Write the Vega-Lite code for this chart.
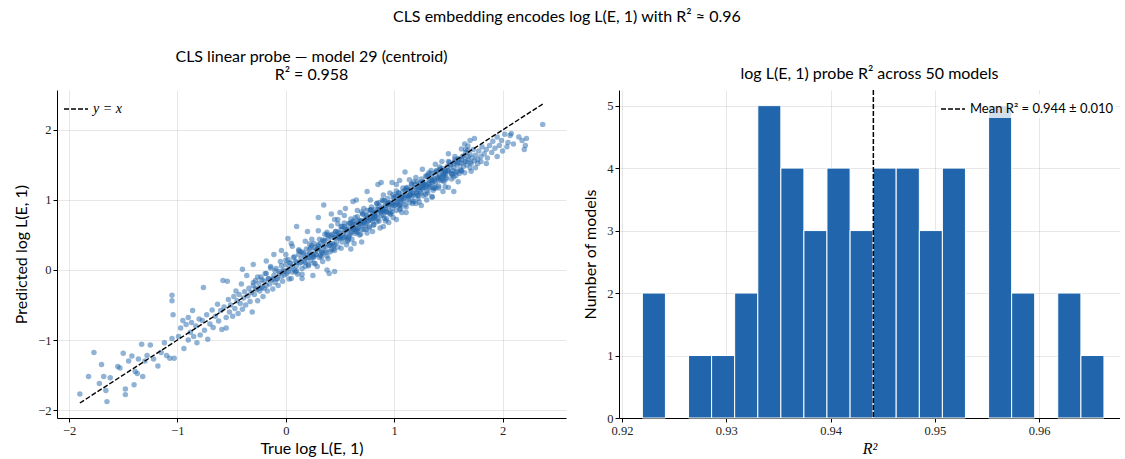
{
  "$schema": "https://vega.github.io/schema/vega-lite/v6.json",
  "background": "white",
  "padding": {"left": 13, "top": 9, "right": 0, "bottom": 5},
  "title": {"text": "CLS embedding encodes log L(E, 1) with R² ≈ 0.96", "anchor": "middle", "fontSize": 16, "offset": 24},
  "spacing": 53,
  "bounds": "flush",
  "resolve": {"scale": {"strokeDash": "independent"}, "legend": {"strokeDash": "independent"}},
  "config": {
    "font": "Lato",
    "view": {"stroke": null},
    "axis": {"domainColor": "black", "domainWidth": 1, "tickColor": "black", "tickSize": 4, "labelFont": "Liberation Serif", "labelFontSize": 12.5, "labelColor": "#222222", "titleFont": "Lato", "titleFontSize": 16, "titleFontWeight": "normal", "titleColor": "black", "gridColor": "#b0b0b0", "gridOpacity": 0.3, "zindex": 1},
    "title": {"font": "Lato", "fontSize": 16, "fontWeight": "normal", "color": "black", "offset": 7, "lineHeight": 18},
    "legend": {"labelFont": "Lato", "labelFontSize": 13, "labelColor": "black", "symbolType": "stroke", "symbolStrokeColor": "black", "symbolSize": 576, "symbolStrokeWidth": 1.5, "offset": 4, "padding": 2}
  },
  "hconcat": [
    {
      "width": 509,
      "height": 328,
      "title": {"text": ["CLS linear probe — model 29 (centroid)", "R² = 0.958"]},
      "layer": [
        {
          "data": {"values": [
            {"t":-1.90,"p":-1.77},{"t":-1.82,"p":-1.52},{"t":-1.77,"p":-1.18},{"t":-1.72,"p":-1.62},{"t":-1.70,"p":-1.35},{"t":-1.68,"p":-1.52},{"t":-1.66,"p":-1.72},{"t":-1.65,"p":-1.88},{"t":-1.62,"p":-1.54},{"t":-1.55,"p":-1.38},{"t":-1.53,"p":-1.40},{"t":-1.50,"p":-1.19},{"t":-1.48,"p":-1.70},{"t":-1.48,"p":-1.78},{"t":-1.45,"p":-1.30},{"t":-1.42,"p":-1.23},{"t":-1.40,"p":-1.64},{"t":-1.39,"p":-1.45},{"t":-1.37,"p":-1.48},{"t":-1.36,"p":-1.27},{"t":-1.33,"p":-1.06},{"t":-1.32,"p":-1.52},{"t":-1.30,"p":-1.30},{"t":-1.28,"p":-1.22},{"t":-1.25,"p":-1.07},{"t":-1.22,"p":-1.27},{"t":-1.18,"p":-1.37},{"t":-1.15,"p":-1.18},{"t":-1.12,"p":-1.04},{"t":-1.10,"p":-1.22},{"t":-1.07,"p":-1.26},{"t":-1.05,"p":-0.98},{"t":-1.05,"p":-0.36},{"t":-1.05,"p":-0.44},{"t":-1.04,"p":-0.64},{"t":-1.03,"p":-1.26},
            {"t":-0.99,"p":-0.95},{"t":-0.97,"p":-0.83},{"t":-0.95,"p":-0.72},{"t":-0.94,"p":-1.12},{"t":-0.92,"p":-0.78},{"t":-0.90,"p":-0.68},{"t":-0.90,"p":-1.00},{"t":-0.88,"p":-0.89},{"t":-0.87,"p":-0.75},{"t":-0.86,"p":-0.58},{"t":-0.85,"p":-0.95},{"t":-0.83,"p":-0.80},{"t":-0.82,"p":-1.04},{"t":-0.80,"p":-0.70},{"t":-0.79,"p":-0.93},{"t":-0.77,"p":-0.72},{"t":-0.76,"p":-0.25},{"t":-0.75,"p":-0.86},{"t":-0.73,"p":-0.64},{"t":-0.72,"p":-0.99},{"t":-0.70,"p":-0.77},{"t":-0.68,"p":-0.57},{"t":-0.67,"p":-0.82},{"t":-0.65,"p":-0.66},{"t":-0.63,"p":-0.49},{"t":-0.62,"p":-0.73},{"t":-0.60,"p":-0.58},{"t":-0.59,"p":-0.85},{"t":-0.58,"p":-0.15},{"t":-0.57,"p":-0.53},{"t":-0.55,"p":-0.68},{"t":-0.55,"p":-0.83},{"t":-0.54,"p":-0.16},{"t":-0.53,"p":-0.42},{"t":-0.52,"p":-0.60},{"t":-0.51,"p":-0.50},
            {"t":-0.49,"p":-0.66},{"t":-0.48,"p":-0.38},{"t":-0.47,"p":-0.55},{"t":-0.46,"p":-0.30},{"t":-0.45,"p":-0.44},{"t":-0.44,"p":-0.62},{"t":-0.43,"p":-0.35},{"t":-0.42,"p":-0.48},{"t":-0.41,"p":-0.20},{"t":-0.40,"p":-0.56},{"t":-0.39,"p":-0.40},{"t":-0.38,"p":-0.31},{"t":-0.37,"p":-0.50},{"t":-0.36,"p":-0.08},{"t":-0.35,"p":-0.37},{"t":-0.34,"p":-0.26},{"t":-0.33,"p":-0.45},{"t":-0.32,"p":-0.32},{"t":-0.31,"p":-0.60},{"t":-0.30,"p":-0.22},{"t":-0.29,"p":-0.35},{"t":-0.28,"p":-0.15},{"t":-0.27,"p":-0.28},{"t":-0.26,"p":-0.44},{"t":-0.25,"p":-0.19},{"t":-0.24,"p":-0.30},{"t":-0.23,"p":-0.10},{"t":-0.22,"p":-0.25},{"t":-0.21,"p":-0.38},{"t":-0.20,"p":-0.16},{"t":-0.19,"p":-0.05},{"t":-0.18,"p":-0.22},{"t":-0.17,"p":-0.30},{"t":-0.16,"p":-0.12},{"t":-0.15,"p":-0.20},{"t":-0.14,"p":0.05},{"t":-0.13,"p":-0.14},{"t":-0.12,"p":-0.27},{"t":-0.11,"p":-0.08},{"t":-0.10,"p":-0.18},{"t":-0.09,"p":0.02},{"t":-0.08,"p":-0.12},{"t":-0.07,"p":-0.22},{"t":-0.06,"p":-0.05},{"t":-0.05,"p":0.12},{"t":-0.04,"p":-0.09},{"t":-0.03,"p":-0.16},{"t":-0.02,"p":0.00},{"t":-0.01,"p":-0.07},{"t":-0.04,"p":0.28},{"t":-0.11,"p":0.22},{"t":-0.18,"p":0.13},{"t":-0.30,"p":0.08},{"t":-0.40,"p":0.01},
            {"t":0.00,"p":0.08},{"t":0.01,"p":-0.05},{"t":0.02,"p":0.15},{"t":0.03,"p":0.02},{"t":0.04,"p":0.10},{"t":0.05,"p":-0.12},{"t":0.06,"p":0.05},{"t":0.07,"p":0.18},{"t":0.08,"p":0.00},{"t":0.09,"p":0.12},{"t":0.10,"p":0.06},{"t":0.11,"p":-0.06},{"t":0.12,"p":0.22},{"t":0.13,"p":0.10},{"t":0.14,"p":0.16},{"t":0.15,"p":0.02},{"t":0.16,"p":0.25},{"t":0.17,"p":0.12},{"t":0.18,"p":0.05},{"t":0.19,"p":0.30},{"t":0.20,"p":0.18},{"t":0.21,"p":0.08},{"t":0.22,"p":0.24},{"t":0.23,"p":0.14},{"t":0.24,"p":0.35},{"t":0.25,"p":0.20},{"t":0.26,"p":0.10},{"t":0.27,"p":0.28},{"t":0.28,"p":0.22},{"t":0.29,"p":0.05},{"t":0.30,"p":0.30},{"t":0.31,"p":0.18},{"t":0.32,"p":0.38},{"t":0.33,"p":0.25},{"t":0.34,"p":0.12},{"t":0.35,"p":0.33},{"t":0.36,"p":0.42},{"t":0.37,"p":0.28},{"t":0.38,"p":0.20},{"t":0.39,"p":0.45},{"t":0.40,"p":0.35},{"t":0.41,"p":0.26},{"t":0.42,"p":0.50},{"t":0.43,"p":0.38},{"t":0.44,"p":0.30},{"t":0.45,"p":0.46},{"t":0.46,"p":0.55},{"t":0.47,"p":0.40},{"t":0.48,"p":0.33},{"t":0.49,"p":0.52},
            {"t":0.10,"p":0.62},{"t":0.05,"p":0.38},{"t":0.02,"p":0.45},{"t":0.30,"p":0.75},{"t":0.35,"p":0.93},{"t":0.20,"p":0.55},{"t":0.40,"p":-0.05},{"t":0.45,"p":-0.02},{"t":0.38,"p":0.00},{"t":0.25,"p":-0.08},{"t":0.15,"p":-0.12},{"t":0.48,"p":0.72},{"t":0.42,"p":0.80},
            {"t":0.50,"p":0.45},{"t":0.51,"p":0.58},{"t":0.52,"p":0.40},{"t":0.53,"p":0.52},{"t":0.54,"p":0.62},{"t":0.55,"p":0.48},{"t":0.56,"p":0.36},{"t":0.57,"p":0.57},{"t":0.58,"p":0.66},{"t":0.59,"p":0.50},{"t":0.60,"p":0.60},{"t":0.61,"p":0.44},{"t":0.62,"p":0.70},{"t":0.63,"p":0.58},{"t":0.64,"p":0.52},{"t":0.65,"p":0.65},{"t":0.66,"p":0.76},{"t":0.67,"p":0.60},{"t":0.68,"p":0.50},{"t":0.69,"p":0.70},{"t":0.70,"p":0.64},{"t":0.71,"p":0.80},{"t":0.72,"p":0.58},{"t":0.73,"p":0.72},{"t":0.74,"p":0.66},{"t":0.75,"p":0.85},{"t":0.76,"p":0.70},{"t":0.77,"p":0.60},{"t":0.78,"p":0.76},{"t":0.79,"p":0.90},{"t":0.80,"p":0.74},{"t":0.81,"p":0.65},{"t":0.82,"p":0.82},{"t":0.83,"p":0.76},{"t":0.84,"p":0.95},{"t":0.85,"p":0.80},{"t":0.86,"p":0.70},{"t":0.87,"p":0.86},{"t":0.88,"p":0.78},{"t":0.89,"p":1.00},{"t":0.90,"p":0.85},{"t":0.91,"p":0.74},{"t":0.92,"p":0.92},{"t":0.93,"p":0.84},{"t":0.94,"p":1.02},{"t":0.95,"p":0.90},{"t":0.96,"p":0.80},{"t":0.97,"p":0.96},{"t":0.98,"p":0.88},{"t":0.99,"p":1.08},
            {"t":0.55,"p":0.55},{"t":0.60,"p":0.53},{"t":0.65,"p":0.58},{"t":0.70,"p":0.70},{"t":0.75,"p":0.74},{"t":0.80,"p":0.80},{"t":0.85,"p":0.86},{"t":0.90,"p":0.90},{"t":0.95,"p":0.94},{"t":0.62,"p":0.62},{"t":0.72,"p":0.68},{"t":0.82,"p":0.77},{"t":0.92,"p":0.87},{"t":0.68,"p":0.66},{"t":0.78,"p":0.72},{"t":0.88,"p":0.84},{"t":0.98,"p":0.95},
            {"t":0.55,"p":0.88},{"t":0.62,"p":0.98},{"t":0.65,"p":1.00},{"t":0.75,"p":1.12},{"t":0.85,"p":1.22},{"t":0.88,"p":1.25},{"t":0.70,"p":0.40},{"t":0.80,"p":0.55},{"t":0.90,"p":0.62},{"t":0.95,"p":0.68},{"t":0.60,"p":0.30},{"t":0.50,"p":0.82},{"t":0.45,"p":0.72},
            {"t":1.00,"p":0.92},{"t":1.01,"p":1.05},{"t":1.02,"p":0.85},{"t":1.03,"p":0.98},{"t":1.04,"p":1.10},{"t":1.05,"p":0.92},{"t":1.06,"p":1.02},{"t":1.07,"p":0.82},{"t":1.08,"p":1.12},{"t":1.09,"p":0.98},{"t":1.10,"p":1.06},{"t":1.11,"p":0.90},{"t":1.12,"p":1.18},{"t":1.13,"p":1.04},{"t":1.14,"p":0.96},{"t":1.15,"p":1.12},{"t":1.16,"p":1.22},{"t":1.17,"p":1.06},{"t":1.18,"p":0.98},{"t":1.19,"p":1.15},{"t":1.20,"p":1.10},{"t":1.21,"p":1.26},{"t":1.22,"p":1.02},{"t":1.23,"p":1.18},{"t":1.24,"p":1.12},{"t":1.25,"p":1.30},{"t":1.26,"p":1.16},{"t":1.27,"p":1.06},{"t":1.28,"p":1.22},{"t":1.29,"p":1.34},{"t":1.30,"p":1.20},{"t":1.31,"p":1.10},{"t":1.32,"p":1.28},{"t":1.33,"p":1.22},{"t":1.34,"p":1.38},{"t":1.35,"p":1.25},{"t":1.36,"p":1.14},{"t":1.37,"p":1.30},{"t":1.38,"p":1.24},{"t":1.39,"p":1.42},{"t":1.40,"p":1.32},{"t":1.41,"p":1.20},{"t":1.42,"p":1.36},{"t":1.43,"p":1.28},{"t":1.44,"p":1.45},{"t":1.45,"p":1.35},{"t":1.46,"p":1.26},{"t":1.47,"p":1.40},{"t":1.48,"p":1.32},{"t":1.49,"p":1.48},
            {"t":1.02,"p":0.97},{"t":1.07,"p":1.00},{"t":1.12,"p":1.06},{"t":1.17,"p":1.10},{"t":1.22,"p":1.15},{"t":1.27,"p":1.18},{"t":1.32,"p":1.24},{"t":1.37,"p":1.27},{"t":1.42,"p":1.33},{"t":1.47,"p":1.37},{"t":1.05,"p":1.00},{"t":1.15,"p":1.08},{"t":1.25,"p":1.19},{"t":1.35,"p":1.28},{"t":1.45,"p":1.38},
            {"t":1.10,"p":1.40},{"t":0.98,"p":1.25},{"t":1.05,"p":1.28},{"t":1.20,"p":0.95},{"t":1.25,"p":0.92},{"t":1.30,"p":1.00},{"t":1.35,"p":1.05},{"t":1.45,"p":1.12},{"t":1.50,"p":1.18},{"t":1.55,"p":1.12},{"t":1.02,"p":0.72},{"t":0.92,"p":0.70},
            {"t":1.50,"p":1.42},{"t":1.52,"p":1.50},{"t":1.53,"p":1.36},{"t":1.55,"p":1.46},{"t":1.56,"p":1.55},{"t":1.57,"p":1.40},{"t":1.58,"p":1.50},{"t":1.60,"p":1.58},{"t":1.61,"p":1.44},{"t":1.62,"p":1.52},{"t":1.63,"p":1.62},{"t":1.64,"p":1.48},{"t":1.65,"p":1.55},{"t":1.66,"p":1.68},{"t":1.67,"p":1.50},{"t":1.68,"p":1.58},{"t":1.70,"p":1.65},{"t":1.71,"p":1.52},{"t":1.72,"p":1.60},{"t":1.73,"p":1.72},{"t":1.74,"p":1.56},{"t":1.75,"p":1.64},{"t":1.77,"p":1.58},{"t":1.78,"p":1.70},{"t":1.80,"p":1.62},{"t":1.81,"p":1.76},{"t":1.83,"p":1.66},{"t":1.85,"p":1.72},{"t":1.86,"p":1.60},{"t":1.88,"p":1.78},{"t":1.90,"p":1.68},{"t":1.91,"p":1.84},{"t":1.93,"p":1.74},{"t":1.95,"p":1.90},{"t":1.97,"p":1.78},{"t":1.99,"p":1.85},{"t":1.65,"p":1.80},{"t":1.70,"p":1.85},{"t":1.55,"p":1.33},{"t":1.60,"p":1.38},{"t":1.75,"p":1.46},{"t":1.80,"p":1.55},{"t":1.85,"p":1.52},{"t":1.62,"p":1.58},{"t":1.68,"p":1.62},
            {"t":2.02,"p":1.94},{"t":2.04,"p":1.76},{"t":2.05,"p":1.82},{"t":2.07,"p":1.92},{"t":2.08,"p":1.95},{"t":2.15,"p":1.90},{"t":2.18,"p":1.85},{"t":2.20,"p":1.72},{"t":2.21,"p":1.78},{"t":2.22,"p":1.88},{"t":2.37,"p":2.08},{"t":2.10,"p":1.80},{"t":2.00,"p":1.70},{"t":1.95,"p":1.62},
            {"t":-0.30,"p":-0.18},{"t":-0.28,"p":-0.26},{"t":-0.26,"p":-0.10},{"t":-0.24,"p":-0.26},{"t":-0.22,"p":-0.14},{"t":-0.20,"p":-0.26},{"t":-0.18,"p":-0.05},{"t":-0.16,"p":-0.13},{"t":-0.14,"p":0.03},{"t":-0.12,"p":-0.13},{"t":-0.10,"p":-0.01},{"t":-0.08,"p":-0.13},{"t":-0.06,"p":-0.02},{"t":-0.04,"p":0.06},{"t":-0.02,"p":-0.02},{"t":0.00,"p":0.14},{"t":0.02,"p":-0.02},{"t":0.04,"p":0.10},{"t":0.06,"p":-0.03},{"t":0.08,"p":0.19},{"t":0.10,"p":0.11},{"t":0.12,"p":0.27},{"t":0.14,"p":0.11},{"t":0.16,"p":0.23},{"t":0.18,"p":0.11},{"t":0.20,"p":0.22},{"t":0.22,"p":0.30},{"t":0.24,"p":0.22},{"t":0.26,"p":0.38},{"t":0.28,"p":0.22},{"t":0.30,"p":0.34},{"t":0.32,"p":0.21},{"t":0.34,"p":0.43},{"t":0.36,"p":0.35},{"t":0.38,"p":0.51},{"t":0.40,"p":0.35},{"t":0.42,"p":0.47},{"t":0.44,"p":0.35},{"t":0.46,"p":0.46},{"t":0.48,"p":0.54},{"t":0.50,"p":0.46},{"t":0.52,"p":0.62},{"t":0.54,"p":0.46},{"t":0.56,"p":0.58},{"t":0.58,"p":0.45},{"t":0.60,"p":0.67},{"t":0.62,"p":0.59},{"t":0.64,"p":0.75},{"t":0.66,"p":0.59},{"t":0.68,"p":0.71},{"t":0.70,"p":0.58},{"t":0.72,"p":0.70},{"t":0.74,"p":0.78},{"t":0.76,"p":0.70},{"t":0.78,"p":0.86},{"t":0.80,"p":0.70},{"t":0.82,"p":0.81},{"t":0.84,"p":0.69},{"t":0.86,"p":0.91},{"t":0.88,"p":0.83},{"t":0.90,"p":0.99},{"t":0.92,"p":0.83},{"t":0.94,"p":0.95},{"t":0.96,"p":0.82},{"t":0.98,"p":0.94},{"t":1.00,"p":1.02},{"t":1.02,"p":0.94},{"t":1.04,"p":1.10},{"t":1.06,"p":0.94},{"t":1.08,"p":1.05},{"t":1.10,"p":0.93},{"t":1.12,"p":1.15},{"t":1.14,"p":1.07},{"t":1.16,"p":1.23},{"t":1.18,"p":1.07},{"t":1.20,"p":1.18},{"t":1.22,"p":1.06},{"t":1.24,"p":1.18},{"t":1.26,"p":1.26},{"t":1.28,"p":1.18},{"t":1.30,"p":1.34},{"t":1.32,"p":1.17},{"t":1.34,"p":1.29},{"t":1.36,"p":1.17},{"t":1.38,"p":1.39},{"t":1.40,"p":1.31},{"t":1.42,"p":1.47},{"t":1.44,"p":1.31},{"t":1.46,"p":1.42},{"t":1.48,"p":1.30},{"t":1.50,"p":1.42},{"t":1.52,"p":1.50},{"t":1.54,"p":1.42},{"t":1.56,"p":1.58},{"t":1.58,"p":1.41},{"t":1.60,"p":1.53},{"t":1.62,"p":1.41},{"t":1.64,"p":1.63},{"t":1.66,"p":1.55},{"t":1.68,"p":1.71},{"t":1.70,"p":1.54},
            {"t":0.21,"p":0.18},{"t":0.23,"p":0.32},{"t":0.25,"p":0.18},{"t":0.27,"p":0.32},{"t":0.29,"p":0.30},{"t":0.31,"p":0.44},{"t":0.33,"p":0.27},{"t":0.35,"p":0.41},{"t":0.37,"p":0.25},{"t":0.39,"p":0.49},{"t":0.41,"p":0.37},{"t":0.43,"p":0.51},{"t":0.45,"p":0.36},{"t":0.47,"p":0.50},{"t":0.49,"p":0.48},{"t":0.51,"p":0.62},{"t":0.53,"p":0.46},{"t":0.55,"p":0.60},{"t":0.57,"p":0.43},{"t":0.59,"p":0.67},{"t":0.61,"p":0.55},{"t":0.63,"p":0.69},{"t":0.65,"p":0.55},{"t":0.67,"p":0.69},{"t":0.69,"p":0.66},{"t":0.71,"p":0.80},{"t":0.73,"p":0.64},{"t":0.75,"p":0.78},{"t":0.77,"p":0.62},{"t":0.79,"p":0.86},{"t":0.81,"p":0.74},{"t":0.83,"p":0.87},{"t":0.85,"p":0.73},{"t":0.87,"p":0.87},{"t":0.89,"p":0.85},{"t":0.91,"p":0.99},{"t":0.93,"p":0.83},{"t":0.95,"p":0.96},{"t":0.97,"p":0.80},{"t":0.99,"p":1.04},{"t":1.01,"p":0.92},{"t":1.03,"p":1.06},{"t":1.05,"p":0.92},{"t":1.07,"p":1.05},{"t":1.09,"p":1.03},{"t":1.11,"p":1.17},{"t":1.13,"p":1.01},{"t":1.15,"p":1.15},{"t":1.17,"p":0.99},{"t":1.19,"p":1.22},{"t":1.21,"p":1.10},{"t":1.23,"p":1.24},{"t":1.25,"p":1.10},{"t":1.27,"p":1.24},{"t":1.29,"p":1.22},{"t":1.31,"p":1.36},{"t":1.33,"p":1.19},{"t":1.35,"p":1.33},{"t":1.37,"p":1.17},{"t":1.39,"p":1.41},{"t":1.41,"p":1.29},{"t":1.43,"p":1.43},{"t":1.45,"p":1.28},{"t":1.47,"p":1.42},{"t":1.49,"p":1.40},{"t":1.51,"p":1.54},{"t":1.53,"p":1.38},{"t":1.55,"p":1.52},{"t":1.57,"p":1.35},{"t":1.59,"p":1.59},
            {"t":0.00,"p":0.22},{"t":0.03,"p":-0.13},{"t":0.06,"p":0.34},{"t":0.09,"p":-0.03},{"t":0.12,"p":0.29},{"t":0.15,"p":-0.06},{"t":0.18,"p":0.41},{"t":0.21,"p":0.06},{"t":0.24,"p":0.44},{"t":0.27,"p":0.09},{"t":0.30,"p":0.56},{"t":0.33,"p":0.19},{"t":0.36,"p":0.51},{"t":0.39,"p":0.16},{"t":0.42,"p":0.63},{"t":0.45,"p":0.28},{"t":0.48,"p":0.66},{"t":0.51,"p":0.31},{"t":0.54,"p":0.78},{"t":0.57,"p":0.41},{"t":0.60,"p":0.73},{"t":0.63,"p":0.38},{"t":0.66,"p":0.85},{"t":0.69,"p":0.51},{"t":0.72,"p":0.88},{"t":0.75,"p":0.53},{"t":0.78,"p":1.00},{"t":0.81,"p":0.64},{"t":0.84,"p":0.95},{"t":0.87,"p":0.60},{"t":0.90,"p":1.07},{"t":0.93,"p":0.73},{"t":0.96,"p":1.10},{"t":0.99,"p":0.75},{"t":1.02,"p":1.22},{"t":1.05,"p":0.86},{"t":1.08,"p":1.17},{"t":1.11,"p":0.82},{"t":1.14,"p":1.29},{"t":1.17,"p":0.95},{"t":1.20,"p":1.32},{"t":1.23,"p":0.97},{"t":1.26,"p":1.44},{"t":1.29,"p":1.08},{"t":1.32,"p":1.39},{"t":1.35,"p":1.04},{"t":1.38,"p":1.51},{"t":1.41,"p":1.17},{"t":1.44,"p":1.55},{"t":1.47,"p":1.19},{"t":1.50,"p":1.66},{"t":1.53,"p":1.30},{"t":1.56,"p":1.62},{"t":1.59,"p":1.26},{"t":1.62,"p":1.73},{"t":1.65,"p":1.39},{"t":1.68,"p":1.77},{"t":1.71,"p":1.41},{"t":1.74,"p":1.88},{"t":1.77,"p":1.52},
            {"t":0.10,"p":-0.01},{"t":0.14,"p":0.26},{"t":0.18,"p":0.18},{"t":0.22,"p":0.37},{"t":0.26,"p":0.19},{"t":0.30,"p":0.36},{"t":0.34,"p":0.24},{"t":0.38,"p":0.54},{"t":0.42,"p":0.29},{"t":0.46,"p":0.55},{"t":0.50,"p":0.47},{"t":0.54,"p":0.67},{"t":0.58,"p":0.48},{"t":0.62,"p":0.65},{"t":0.66,"p":0.54},{"t":0.70,"p":0.83},{"t":0.74,"p":0.58},{"t":0.78,"p":0.85},{"t":0.82,"p":0.76},{"t":0.86,"p":0.96},{"t":0.90,"p":0.78},{"t":0.94,"p":0.95},{"t":0.98,"p":0.83},{"t":1.02,"p":1.13},{"t":1.06,"p":0.88},{"t":1.10,"p":1.14},{"t":1.14,"p":1.06},{"t":1.18,"p":1.26},{"t":1.22,"p":1.07},{"t":1.26,"p":1.24},{"t":1.30,"p":1.13},{"t":1.34,"p":1.42},{"t":1.38,"p":1.17},{"t":1.42,"p":1.44},{"t":1.46,"p":1.35},{"t":1.50,"p":1.55},{"t":1.54,"p":1.37},{"t":1.58,"p":1.53},{"t":1.62,"p":1.42},{"t":1.66,"p":1.72},{"t":1.70,"p":1.46}
          ]},
          "mark": {"type": "circle", "size": 30, "opacity": 0.5, "color": "#2166ac"},
          "encoding": {
            "x": {"field": "t", "type": "quantitative", "scale": {"domain": [-2.111, 2.585], "nice": false, "zero": false}, "axis": {"values": [-2, -1, 0, 1, 2], "format": "d", "title": "True log L(E, 1)", "titlePadding": 4}},
            "y": {"field": "p", "type": "quantitative", "scale": {"domain": [-2.114, 2.571], "nice": false, "zero": false}, "axis": {"values": [-2, -1, 0, 1, 2], "format": "d", "title": "Predicted log L(E, 1)", "titlePadding": 8}}
          }
        },
        {
          "data": {"values": [{"t": -1.9, "p": -1.9, "lab": "y = x"}, {"t": 2.37, "p": 2.37, "lab": "y = x"}]},
          "mark": {"type": "line", "color": "black", "strokeWidth": 1.4},
          "encoding": {
            "x": {"field": "t", "type": "quantitative"},
            "y": {"field": "p", "type": "quantitative"},
            "strokeDash": {"field": "lab", "type": "nominal", "scale": {"range": [[5, 2]]}, "legend": {"orient": "top-left", "title": null, "labelFont": "Liberation Serif", "labelFontStyle": "italic", "labelFontSize": 14}}
          }
        }
      ]
    },
    {
      "width": 501,
      "height": 328,
      "title": {"text": "log L(E, 1) probe R² across 50 models"},
      "layer": [
        {
          "data": {"values": [
            {"bin_start": 0.92195, "bin_end": 0.92416, "count": 2},
            {"bin_start": 0.92638, "bin_end": 0.92859, "count": 1},
            {"bin_start": 0.92859, "bin_end": 0.93080, "count": 1},
            {"bin_start": 0.93080, "bin_end": 0.93302, "count": 2},
            {"bin_start": 0.93302, "bin_end": 0.93523, "count": 5},
            {"bin_start": 0.93523, "bin_end": 0.93744, "count": 4},
            {"bin_start": 0.93744, "bin_end": 0.93965, "count": 3},
            {"bin_start": 0.93965, "bin_end": 0.94187, "count": 4},
            {"bin_start": 0.94187, "bin_end": 0.94408, "count": 3},
            {"bin_start": 0.94408, "bin_end": 0.94629, "count": 4},
            {"bin_start": 0.94629, "bin_end": 0.94851, "count": 4},
            {"bin_start": 0.94851, "bin_end": 0.95072, "count": 3},
            {"bin_start": 0.95072, "bin_end": 0.95293, "count": 4},
            {"bin_start": 0.95515, "bin_end": 0.95736, "count": 5},
            {"bin_start": 0.95736, "bin_end": 0.95957, "count": 2},
            {"bin_start": 0.96178, "bin_end": 0.96400, "count": 2},
            {"bin_start": 0.96400, "bin_end": 0.96621, "count": 1}
          ]},
          "mark": {"type": "bar", "color": "#2166ac", "stroke": "white", "strokeWidth": 1},
          "encoding": {
            "x": {"field": "bin_start", "type": "quantitative", "scale": {"domain": [0.91971, 0.96775], "nice": false, "zero": false}, "axis": {"values": [0.92, 0.93, 0.94, 0.95, 0.96], "format": ".2f", "title": "R²", "titleFont": "Liberation Serif", "titleFontStyle": "italic", "titlePadding": 4}},
            "x2": {"field": "bin_end"},
            "y": {"field": "count", "type": "quantitative", "scale": {"domain": [0, 5.25], "nice": false}, "axis": {"values": [0, 1, 2, 3, 4, 5], "title": "Number of models", "titlePadding": 8}},
            "y2": {"datum": 0}
          }
        },
        {
          "data": {"values": [{"mean": 0.9441, "lab": "Mean R² = 0.944 ± 0.010"}]},
          "mark": {"type": "rule", "color": "black", "strokeWidth": 1.5},
          "encoding": {
            "x": {"field": "mean", "type": "quantitative"},
            "strokeDash": {"field": "lab", "type": "nominal", "scale": {"range": [[5, 2]]}, "legend": {"orient": "top-right", "title": null, "fillColor": "rgba(255,255,255,0.8)"}}
          }
        }
      ]
    }
  ]
}
